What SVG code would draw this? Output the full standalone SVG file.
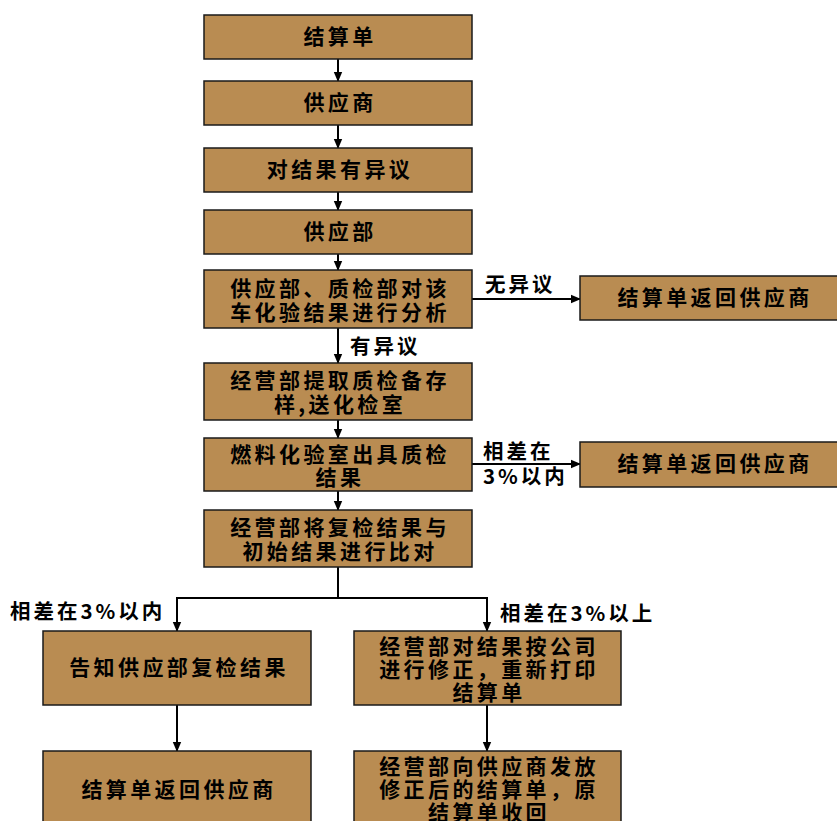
<svg xmlns="http://www.w3.org/2000/svg" width="837" height="821" viewBox="0 0 837 821">
<style>
.box{fill:#B98C52;stroke:#1a1a1a;stroke-width:1.5}
.t{font-family:"Noto Sans CJK SC","Noto Sans",sans-serif;font-weight:bold;font-size:21px;fill:#000;text-anchor:middle;letter-spacing:3.4px}
.l{font-family:"Noto Sans CJK SC","Noto Sans",sans-serif;font-weight:bold;font-size:20.5px;fill:#000;letter-spacing:3px}
.c{fill:none;stroke:#000;stroke-width:2}
</style>
<defs>
<marker id="ah" markerWidth="10" markerHeight="10" refX="9" refY="5" orient="auto" markerUnits="userSpaceOnUse">
<path d="M0,0.8 L10,5 L0,9.2 Z" fill="#000"/>
</marker>
</defs>
<rect width="837" height="821" fill="#fff"/>
<g id="connectors">
<path class="c" d="M338,59 V81" marker-end="url(#ah)"/>
<path class="c" d="M338,125 V148" marker-end="url(#ah)"/>
<path class="c" d="M338,192 V210" marker-end="url(#ah)"/>
<path class="c" d="M338,254 V270" marker-end="url(#ah)"/>
<path class="c" d="M472,299 H580" marker-end="url(#ah)"/>
<path class="c" d="M338,328 V363" marker-end="url(#ah)"/>
<path class="c" d="M338,420 V438" marker-end="url(#ah)"/>
<path class="c" d="M472,464 H580" marker-end="url(#ah)"/>
<path class="c" d="M338,491 V510" marker-end="url(#ah)"/>
<path class="c" d="M338,567 V598 M177,598 H487"/>
<path class="c" d="M177,597 V631" marker-end="url(#ah)"/>
<path class="c" d="M487,597 V631" marker-end="url(#ah)"/>
<path class="c" d="M177,705 V751" marker-end="url(#ah)"/>
<path class="c" d="M487,705 V751" marker-end="url(#ah)"/>
<text class="l" x="485" y="292">无异议</text>
<text class="l" x="350" y="354">有异议</text>
<text class="l" x="483" y="459">相差在</text>
<text class="l" x="483" y="484">3%以内</text>
<text class="l" x="10" y="619">相差在3%以内</text>
<text class="l" x="500" y="621">相差在3%以上</text>
</g>
<g id="n1"><rect class="box" x="204" y="15" width="268" height="44"/><text class="t" x="340" y="44">结算单</text></g>
<g id="n2"><rect class="box" x="204" y="81" width="268" height="44"/><text class="t" x="340" y="110">供应商</text></g>
<g id="n3"><rect class="box" x="204" y="148" width="268" height="44"/><text class="t" x="340" y="177">对结果有异议</text></g>
<g id="n4"><rect class="box" x="204" y="210" width="268" height="44"/><text class="t" x="340" y="239">供应部</text></g>
<g id="n5"><rect class="box" x="204" y="270" width="268" height="58"/><text class="t" x="340" y="296">供应部、质检部对该</text><text class="t" x="340" y="320">车化验结果进行分析</text></g>
<g id="n6"><rect class="box" x="580" y="276" width="265" height="44"/><text class="t" x="715" y="305">结算单返回供应商</text></g>
<g id="n7"><rect class="box" x="204" y="363" width="268" height="57"/><text class="t" x="340" y="388">经营部提取质检备存</text><text class="t" x="340" y="412">样,送化检室</text></g>
<g id="n8"><rect class="box" x="204" y="438" width="268" height="53"/><text class="t" x="340" y="462">燃料化验室出具质检</text><text class="t" x="340" y="485">结果</text></g>
<g id="n9"><rect class="box" x="580" y="442" width="265" height="45"/><text class="t" x="715" y="471">结算单返回供应商</text></g>
<g id="n10"><rect class="box" x="204" y="510" width="268" height="57"/><text class="t" x="340" y="535">经营部将复检结果与</text><text class="t" x="340" y="559">初始结果进行比对</text></g>
<g id="n11"><rect class="box" x="43" y="631" width="268" height="74"/><text class="t" x="179" y="675">告知供应部复检结果</text></g>
<g id="n12"><rect class="box" x="354" y="631" width="267" height="74"/><text class="t" x="489" y="654">经营部对结果按公司</text><text class="t" x="489" y="677">进行修正，重新打印</text><text class="t" x="489" y="700">结算单</text></g>
<g id="n13"><rect class="box" x="43" y="751" width="268" height="80"/><text class="t" x="179" y="797">结算单返回供应商</text></g>
<g id="n14"><rect class="box" x="354" y="751" width="267" height="80"/><text class="t" x="489" y="774">经营部向供应商发放</text><text class="t" x="489" y="797">修正后的结算单，原</text><text class="t" x="489" y="820">结算单收回</text></g>
</svg>
